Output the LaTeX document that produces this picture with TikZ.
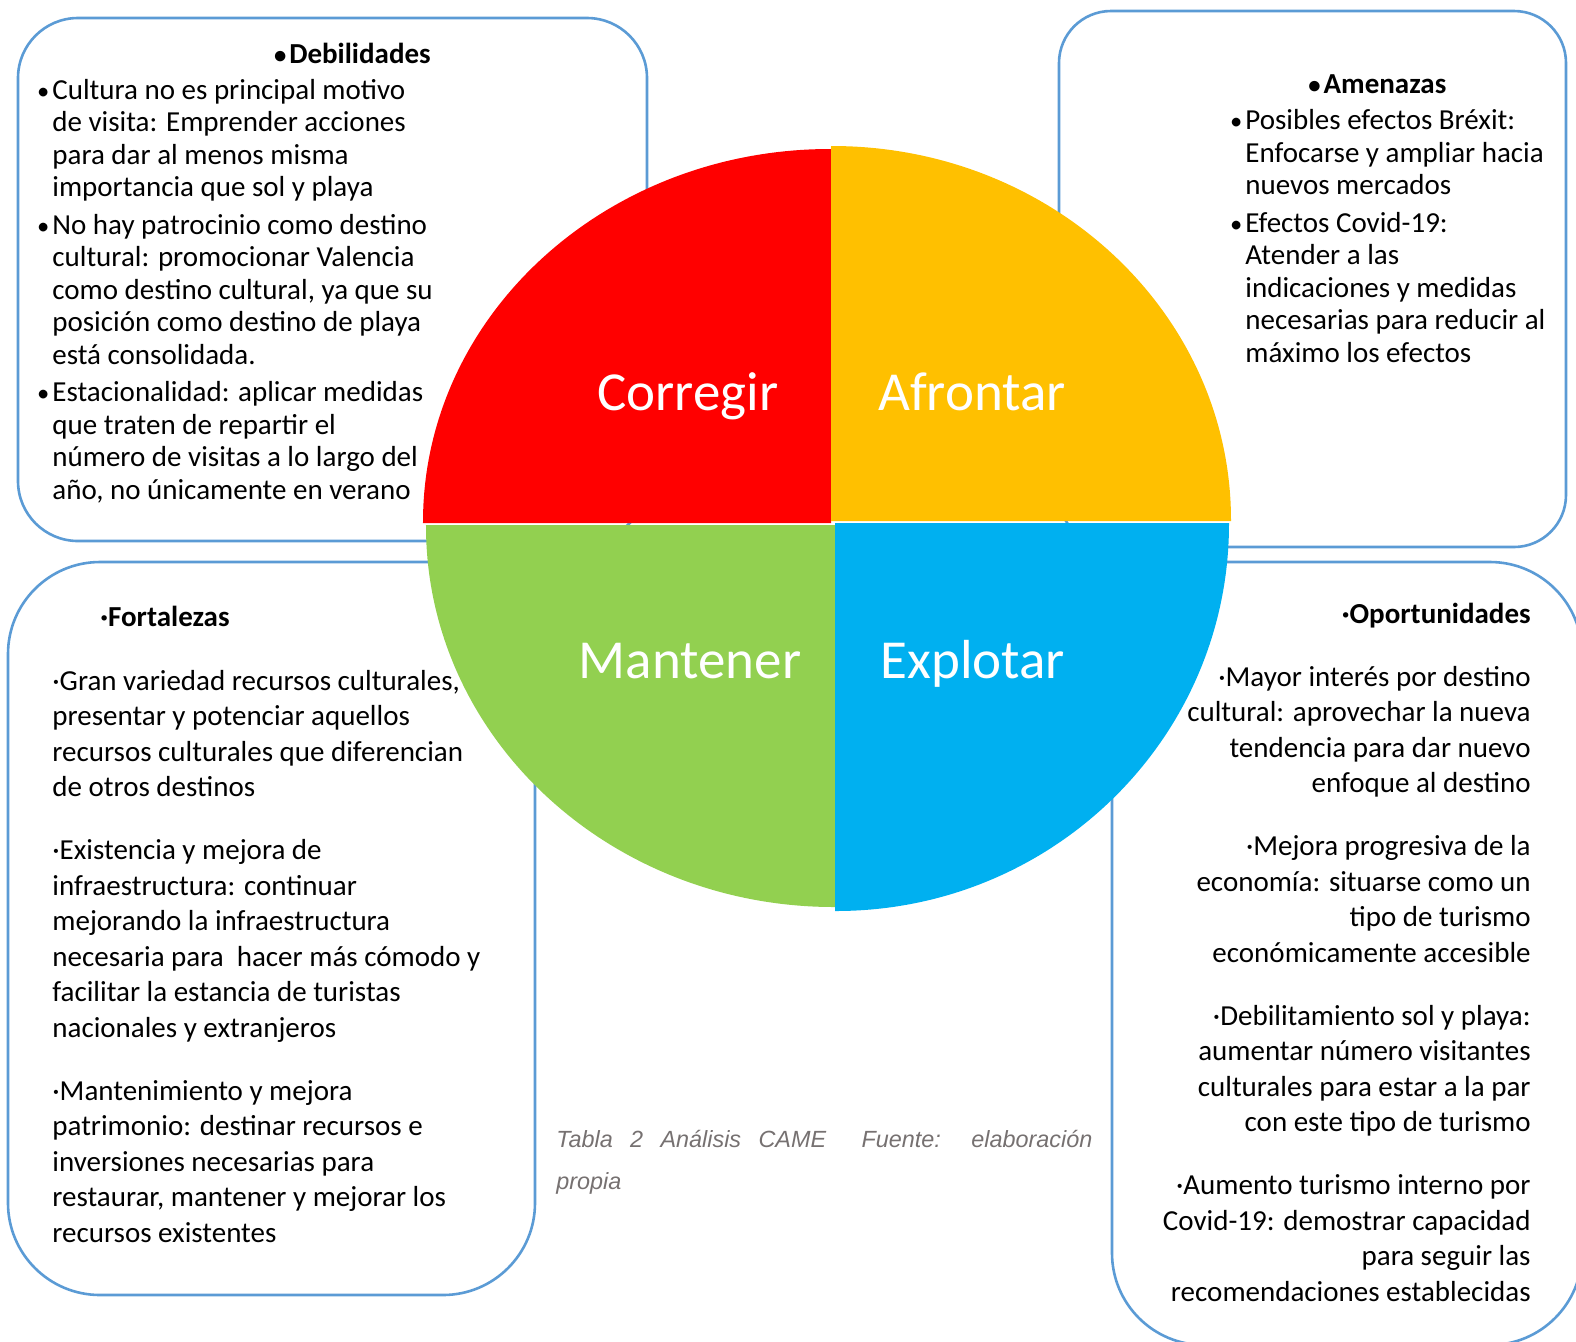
\documentclass[tikz,border=0pt]{standalone}
\usepackage{fontspec}
\setmainfont{Carlito}
\newfontfamily\capfont{Liberation Sans}

\definecolor{boxblue}{RGB}{91,155,213}
\definecolor{quadred}{RGB}{255,0,0}
\definecolor{quadyellow}{RGB}{255,192,0}
\definecolor{quadgreen}{RGB}{146,208,80}
\definecolor{quadblue}{RGB}{0,176,240}
\definecolor{capgray}{RGB}{118,113,113}

\newcommand{\dotitem}{\llap{\scalebox{0.85}{•}\kern1.5pt}}

\begin{document}
\begin{tikzpicture}[
    x=0.5pt, y=-0.5pt,
    sidebox/.style={draw=boxblue, line width=1.3pt, fill=white},
    boxtext/.style={inner sep=0pt, font=\fontsize{14.5}{16.25}\selectfont},
    widetext/.style={inner sep=0pt, font=\fontsize{14.5}{17.75}\selectfont},
    quad/.style={draw=white, line width=1pt},
    quadlabel/.style={inner sep=0pt, anchor=base, text=white, font=\fontsize{27.5}{30}\selectfont},
    ]
    \useasboundingbox (0,0) rectangle (1576,1341);
    \clip (0,0) rectangle (1576,1341);

    % Side boxes
    \draw[sidebox, rounded corners=30pt] (18,18) rectangle (647,541);
    \draw[sidebox, rounded corners=26pt] (1059,11) rectangle (1566,547);
    \draw[sidebox, rounded corners=46pt] (8,562) rectangle (535,1295);
    \draw[sidebox, rounded corners=46pt] (1112,562) rectangle (1582,1345);

    % Debilidades (anchored on the last line)
    \node[boxtext, font=\fontsize{14.5}{16.25}\selectfont\bfseries] (debtitle) at (360,53) {\dotitem Debilidades};
    \node[boxtext, align=left, anchor=base west] (deb) at (52,499) {%
        \dotitem Cultura no es principal motivo\\
        de visita: Emprender acciones\\
        para dar al menos misma\\
        importancia que sol y playa\\[2.4pt]
        \dotitem No hay patrocinio como destino\\
        cultural: promocionar Valencia\\
        como destino cultural, ya que su\\
        posición como destino de playa\\
        está consolidada.\\[2.4pt]
        \dotitem Estacionalidad: aplicar medidas\\
        que traten de repartir el\\
        número de visitas a lo largo del\\
        año, no únicamente en verano};

    % Amenazas
    \node[boxtext, font=\fontsize{14.5}{16.25}\selectfont\bfseries] (amentitle) at (1385,84) {\dotitem Amenazas};
    \node[boxtext, align=left, anchor=base west] (amen) at (1245,362) {%
        \dotitem Posibles efectos Bréxit:\\
        Enfocarse y ampliar hacia\\
        nuevos mercados\\[2.4pt]
        \dotitem Efectos Covid-19:\\
        Atender a las\\
        indicaciones y medidas\\
        necesarias para reducir al\\
        máximo los efectos};

    % Fortalezas
    \node[widetext, font=\fontsize{14.5}{17.75}\selectfont\bfseries, anchor=base west] (fortitle) at (100,626) {·Fortalezas};
    \node[widetext, align=left, anchor=base west] (fort) at (52,1242) {%
        ·Gran variedad recursos culturales,\\
        presentar y potenciar aquellos\\
        recursos culturales que diferencian\\
        de otros destinos\\[13.75pt]
        ·Existencia y mejora de\\
        infraestructura: continuar\\
        mejorando la infraestructura\\
        necesaria para \ hacer más cómodo y\\
        facilitar la estancia de turistas\\
        nacionales y extranjeros\\[13.75pt]
        ·Mantenimiento y mejora\\
        patrimonio: destinar recursos e\\
        inversiones necesarias para\\
        restaurar, mantener y mejorar los\\
        recursos existentes};

    % Oportunidades
    \node[widetext, font=\fontsize{14.5}{17.75}\selectfont\bfseries, anchor=base east] (opotitle) at (1531,623) {·Oportunidades};
    \node[widetext, align=right, anchor=base east] (opo) at (1531,1301) {%
        ·Mayor interés por destino\\
        cultural: aprovechar la nueva\\
        tendencia para dar nuevo\\
        enfoque al destino\\[13.75pt]
        ·Mejora progresiva de la\\
        economía: situarse como un\\
        tipo de turismo\\
        económicamente accesible\\[13.75pt]
        ·Debilitamiento sol y playa:\\
        aumentar número visitantes\\
        culturales para estar a la par\\
        con este tipo de turismo\\[13.75pt]
        ·Aumento turismo interno por\\
        Covid-19: demostrar capacidad\\
        para seguir las\\
        recomendaciones establecidas};

    % Caption
    \node[inner sep=0pt, align=left, anchor=base west, text=capgray,
          font=\capfont\itshape\fontsize{11.7}{21}\selectfont] (caption) at (556,1189) {%
        \makebox[268pt][s]{Tabla 2 Análisis CAME\hspace{9pt} Fuente: elaboración}\\
        propia};

    % Quadrants
    \fill[quad, quadred] (830,522) -- (424,522) arc[start angle=180, end angle=270, x radius=406, y radius=372] -- cycle;
    \fill[quad, quadyellow] (832,520) -- (832,147) arc[start angle=270, end angle=360, x radius=398, y radius=373] -- cycle;
    \fill[quad, quadgreen] (834,526) -- (427,526) arc[start angle=180, end angle=90, x radius=407, y radius=380] -- cycle;
    \fill[quad, quadblue] (836,524) -- (1228,524) arc[start angle=0, end angle=90, x radius=392, y radius=386] -- cycle;

    % Quadrant labels
    \node[quadlabel] (corregir) at (688,410) {Corregir};
    \node[quadlabel] (afrontar) at (972,410) {Afrontar};
    \node[quadlabel] (mantener) at (690,678) {Mantener};
    \node[quadlabel] (explotar) at (973,678) {Explotar};
\end{tikzpicture}
\end{document}
